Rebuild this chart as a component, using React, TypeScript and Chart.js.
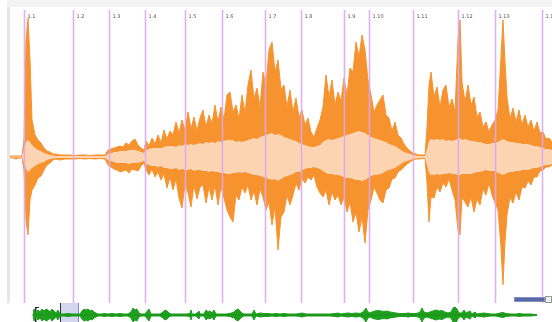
import React, { useEffect, useRef } from "react";
import { Chart, registerables } from "chart.js";

Chart.register(...registerables);

// ---- main view (frames, 10 ms each) ----
const viewFrames = [
  0, 3, 6, 9, 12, 14, 16, 18, 20, 22,
  25, 28, 31, 34, 37, 40, 43, 46, 50, 55,
  60, 65, 70, 75, 80, 85, 90, 95, 98, 101,
  104, 107, 110, 113, 116, 119, 122, 125, 128, 131,
  134, 136, 139, 142, 145, 148, 151, 154, 157, 160,
  163, 166, 169, 172, 175, 178, 181, 184, 187, 190,
  193, 196, 199, 202, 205, 208, 211, 214, 217, 220,
  223, 226, 229, 232, 235, 238, 241, 244, 247, 250,
  253, 256, 259, 262, 265, 268, 271, 274, 277, 280,
  283, 286, 289, 292, 295, 298, 301, 304, 307, 310,
  313, 316, 319, 322, 325, 328, 331, 334, 337, 340,
  343, 346, 349, 352, 355, 358, 361, 364, 367, 370,
  373, 376, 379, 382, 385, 388, 391, 394, 397, 400,
  403, 406, 409, 412, 415, 417, 419, 421, 424, 427,
  430, 433, 436, 439, 442, 445, 448, 450, 452, 455,
  458, 461, 464, 467, 470, 473, 476, 479, 482, 485,
  488, 491, 493, 495, 497, 500, 503, 506, 509, 512,
  515, 518, 521, 524, 527, 530, 533, 536, 539, 542,
];

const peakUpper = [
  1, 1, 1, 1, 1, 17, 117, 139, 97, 37,
  22, 17, 14, 9, 6, 5, 3, 3, 2, 2,
  2, 1.5, 2, 2, 1.5, 2, 2, 2, 7, 8,
  9, 10, 11, 10, 14, 12, 16, 18, 12, 9,
  7, 16, 11, 19, 13, 22, 14, 27, 18, 26,
  22, 35, 24, 37, 27, 45, 28, 40, 26, 39,
  47, 30, 42, 33, 52, 35, 50, 38, 62, 65,
  45, 52, 38, 62, 44, 72, 87, 58, 69, 50,
  85, 72, 107, 115, 85, 97, 68, 72, 50, 67,
  45, 59, 40, 47, 32, 39, 25, 20, 29, 37,
  50, 82, 60, 77, 52, 65, 56, 79, 62, 89,
  85, 115, 100, 122, 107, 77, 62, 45, 52, 57,
  62, 42, 39, 26, 35, 22, 19, 13, 9, 6,
  4, 3, 2, 2, 2, 30, 72, 85, 60, 70,
  50, 67, 72, 50, 58, 45, 117, 137, 75, 55,
  72, 52, 60, 40, 45, 30, 35, 25, 32, 37,
  47, 100, 137, 95, 60, 38, 49, 35, 47, 32,
  42, 30, 37, 26, 35, 24, 25, 18, 19, 15,
];

const peakLower = [
  1, 1, 2, 1, 1, 13, 63, 78, 43, 33,
  28, 21, 19, 13, 8, 6, 3, 2, 3, 2,
  2, 2, 1.5, 2, 1.5, 2, 1.5, 2, 8, 10,
  12, 13, 15, 14, 13, 16, 12, 13, 14, 9,
  6, 13, 18, 12, 20, 15, 23, 17, 31, 20,
  33, 22, 41, 51, 27, 36, 50, 28, 42, 30,
  28, 46, 30, 43, 28, 48, 30, 41, 53, 60,
  65, 38, 43, 30, 36, 28, 43, 34, 48, 32,
  40, 53, 45, 68, 50, 93, 60, 55, 38, 48,
  38, 26, 33, 22, 26, 20, 23, 18, 30, 36,
  40, 33, 48, 35, 43, 38, 48, 40, 55, 45,
  65, 55, 75, 60, 86, 53, 43, 30, 36, 43,
  46, 33, 31, 22, 21, 15, 13, 10, 7, 5,
  3, 2, 2, 1.5, 1.5, 25, 65, 40, 41, 30,
  35, 26, 30, 22, 33, 43, 73, 78, 40, 45,
  50, 40, 55, 42, 48, 32, 38, 26, 38, 46,
  53, 90, 128, 85, 58, 40, 46, 35, 43, 30,
  31, 24, 28, 20, 20, 14, 13, 10, 10, 8,
];

const rmsUpper = [
  0.5, 0.5, 0.5, 0.5, 0.5, 8, 15, 17, 15, 12,
  9, 7, 6, 4, 3, 2, 1.5, 1, 1, 1,
  1, 1, 1, 1, 1, 1, 1, 1, 3, 4,
  5, 5, 6, 6, 6, 7, 7, 7, 6, 5,
  4, 7, 8, 9, 9, 9, 9, 10, 11, 11,
  11, 10, 12, 11, 13, 12, 13, 12, 13, 14,
  13, 15, 14, 15, 14, 16, 15, 16, 17, 17,
  17, 15, 16, 15, 16, 17, 18, 19, 18, 20,
  21, 22, 23, 24, 22, 23, 22, 20, 19, 18,
  17, 16, 14, 13, 12, 11, 10, 10, 11, 12,
  15, 17, 18, 17, 18, 19, 20, 21, 22, 23,
  24, 25, 26, 25, 24, 22, 20, 19, 18, 17,
  16, 15, 13, 12, 11, 9, 7, 5, 4, 3,
  2, 1.5, 1, 1, 1, 8, 16, 18, 17, 18,
  17, 18, 16, 17, 16, 17, 18, 19, 17, 18,
  17, 16, 16, 15, 15, 14, 13, 13, 14, 14,
  15, 17, 18, 17, 16, 15, 15, 14, 14, 13,
  13, 13, 12, 11, 11, 10, 9, 8, 8, 7,
];

const rmsLower = [
  0.5, 0.5, 0.5, 0.5, 0.5, 6, 12, 15, 13, 11,
  9, 7, 6, 5, 3, 2, 1.5, 1, 1, 1,
  1, 1, 1, 1, 1, 1, 1, 1, 3, 4,
  5, 6, 6, 6, 6, 7, 6, 6, 6, 5,
  4, 7, 8, 9, 9, 10, 9, 11, 11, 12,
  12, 11, 13, 12, 13, 13, 12, 14, 13, 13,
  14, 14, 15, 14, 15, 15, 16, 16, 17, 17,
  16, 16, 15, 16, 15, 16, 17, 18, 18, 19,
  20, 21, 22, 23, 22, 24, 22, 20, 19, 18,
  17, 15, 15, 13, 12, 11, 11, 10, 11, 12,
  14, 16, 17, 17, 18, 18, 19, 20, 21, 21,
  22, 23, 23, 24, 23, 21, 19, 18, 18, 17,
  16, 14, 13, 12, 11, 9, 7, 5, 4, 3,
  2, 1.5, 1, 1, 1, 8, 16, 18, 18, 17,
  18, 17, 17, 16, 17, 17, 18, 18, 17, 17,
  17, 17, 16, 15, 15, 14, 13, 14, 14, 14,
  16, 17, 18, 17, 16, 15, 15, 14, 14, 13,
  13, 13, 12, 11, 11, 10, 9, 8, 8, 7,
];

const markerFrames = [14, 63, 99, 135, 175, 212, 255, 291, 334, 359, 403, 448, 485, 532];
const markerLabels = ["1.1", "1.2", "1.3", "1.4", "1.5", "1.6", "1.7", "1.8", "1.9", "1.10", "1.11", "1.12", "1.13", "1.14"];

// ---- overview (whole file) ----
const overviewFrames = [
  33, 34, 36, 38, 40, 42, 44, 46, 48, 50,
  52, 54, 56, 58, 60, 64, 68, 72, 76, 80,
  82, 84, 86, 88, 90, 92, 94, 96, 98, 102,
  104, 108, 112, 116, 120, 124, 128, 131, 133, 135,
  137, 139, 141, 145, 149, 151, 155, 160, 163, 165,
  167, 169, 171, 176, 181, 186, 190, 191, 192, 196,
  199, 200, 204, 206, 208, 210, 212, 214, 216, 221,
  226, 230, 234, 236, 238, 240, 242, 244, 249, 252,
  254, 256, 260, 264, 268, 272, 276, 280, 284, 288,
  292, 296, 300, 302, 306, 312, 318, 324, 330, 335,
  338, 341, 344, 348, 352, 356, 360, 363, 366, 368,
  370, 372, 375, 378, 381, 384, 387, 390, 393, 396,
  400, 405, 408, 411, 415, 418, 420, 422, 424, 427,
  430, 433, 436, 439, 442, 445, 448, 451, 453, 455,
  457, 459, 462, 464, 466, 468, 470, 472, 475, 477,
  480, 484, 487, 491, 496, 500, 503, 506, 511, 516,
  519, 523, 527, 531, 535, 537,
];
const overviewAmp = [
  0, 6, 1, 5, 3, 6, 4, 6, 5, 3,
  6, 4, 2, 5, 1, 1, 1.5, 1, 1, 1,
  4, 6, 5, 6, 4, 5, 3, 2, 1, 1,
  1.5, 1, 1.5, 1, 1.5, 1, 1, 3, 7, 5,
  6, 2, 1, 1, 6, 1, 1, 1, 3, 5,
  4, 2, 1, 1, 1, 1, 1.5, 5, 1, 1,
  4, 1, 1, 5, 3, 4, 2, 5, 1, 1,
  1, 1.5, 3, 5, 6, 4, 2, 1, 1, 1,
  5, 1, 2, 1.5, 1.5, 1, 1.5, 1, 1.5, 1,
  1, 1, 1.5, 2, 1, 1, 1, 1, 1, 1.5,
  2, 1, 1.5, 2, 1.5, 2, 1.5, 3, 7, 3,
  2, 3, 4, 4.5, 4, 3.5, 4, 3, 2.5, 2,
  1.5, 1.5, 2, 1.5, 1.5, 2, 3, 7, 3, 2,
  3, 4, 5, 4, 4.5, 3, 2, 3, 7, 8,
  6, 2, 2, 5, 2, 3, 4, 1, 3, 1,
  1.5, 2, 1.5, 1, 1, 2, 2.5, 1.5, 1, 1,
  1.5, 1, 1, 1, 0.5, 0,
];
const selectionFrames = [60, 78];
const bracketFrame = 35;

const markerPlugin = {
  id: "markers",
  afterDatasetsDraw(chart: any) {
    const ctx = chart.ctx;
    const xs = chart.scales.x;
    ctx.save();
    markerFrames.forEach((f, i) => {
      const x = Math.round(xs.getPixelForValue(f)) + 0.5;
      ctx.strokeStyle = "rgba(218,168,242,0.9)";
      ctx.lineWidth = 1.6;
      ctx.beginPath();
      ctx.moveTo(x, 3);
      ctx.lineTo(x, 296);
      ctx.stroke();
      ctx.fillStyle = "#555";
      ctx.font = "5px 'DejaVu Sans', sans-serif";
      ctx.textBaseline = "middle";
      ctx.fillText(markerLabels[i], x + 3, 10);
    });
    ctx.restore();
  },
};

const overviewPlugin = {
  id: "overviewDecor",
  beforeDatasetsDraw(chart: any) {
    const ctx = chart.ctx;
    const xs = chart.scales.x;
    const h = chart.height;
    const x0 = Math.round(xs.getPixelForValue(selectionFrames[0]));
    const x1 = Math.round(xs.getPixelForValue(selectionFrames[1]));
    ctx.save();
    ctx.fillStyle = "rgba(205,210,238,0.9)";
    ctx.fillRect(x0, 0, x1 - x0, h);
    ctx.fillStyle = "#333";
    ctx.fillRect(x0, 0, 1, h);
    ctx.fillStyle = "#7f88c8";
    ctx.fillRect(x1, 0, 1, h);
    const bx = Math.round(xs.getPixelForValue(bracketFrame));
    ctx.fillStyle = "#1b3b1b";
    ctx.fillRect(bx, 4, 1.5, h - 4);
    ctx.fillRect(bx, 4, 4, 1);
    ctx.restore();
  },
};

export default function App() {
  const mainRef = useRef<HTMLCanvasElement>(null);
  const ovRef = useRef<HTMLCanvasElement>(null);

  useEffect(() => {
    const pts = (arr: number[], sign: number) =>
      viewFrames.map((f, i) => ({ x: f, y: sign * arr[i] }));
    const main = new Chart(mainRef.current as HTMLCanvasElement, {
      type: "line",
      data: {
        datasets: [
          { data: pts(rmsUpper, 1), fill: "+1", backgroundColor: "rgb(252,212,178)", borderColor: "rgba(0,0,0,0)", borderWidth: 0, pointRadius: 0 },
          { data: pts(rmsLower, -1), fill: false, borderColor: "rgba(0,0,0,0)", borderWidth: 0, pointRadius: 0 },
          { data: pts(peakUpper, 1), fill: "+1", backgroundColor: "rgb(247,147,46)", borderColor: "rgb(247,147,46)", borderWidth: 1, pointRadius: 0 },
          { data: pts(peakLower, -1), fill: false, borderColor: "rgb(247,147,46)", borderWidth: 1, pointRadius: 0 },
        ] as any,
      },
      options: {
        responsive: false,
        animation: false,
        devicePixelRatio: 1,
        layout: { padding: 0 },
        plugins: { legend: { display: false }, tooltip: { enabled: false } },
        elements: { line: { tension: 0 } },
        scales: {
          x: { type: "linear", min: 0, max: 542, display: false },
          y: { type: "linear", min: -150, max: 150, display: false },
        },
      },
      plugins: [markerPlugin],
    });

    const ovPts = (sign: number) => overviewFrames.map((f, i) => ({ x: f, y: sign * overviewAmp[i] }));
    const ov = new Chart(ovRef.current as HTMLCanvasElement, {
      type: "line",
      data: {
        datasets: [
          { data: [{ x: overviewFrames[0], y: 0 }, { x: overviewFrames[overviewFrames.length - 1], y: 0 }], fill: false, borderColor: "rgb(30,150,30)", borderWidth: 1.5, pointRadius: 0 },
          { data: ovPts(1), fill: "+1", backgroundColor: "rgb(30,160,30)", borderColor: "rgb(30,160,30)", borderWidth: 1, pointRadius: 0 },
          { data: ovPts(-1), fill: false, borderColor: "rgb(30,160,30)", borderWidth: 1, pointRadius: 0 },
        ] as any,
      },
      options: {
        responsive: false,
        animation: false,
        devicePixelRatio: 1,
        layout: { padding: 0 },
        plugins: { legend: { display: false }, tooltip: { enabled: false } },
        elements: { line: { tension: 0 } },
        scales: {
          x: { type: "linear", min: 0, max: 552, display: false },
          y: { type: "linear", min: -7, max: 12, display: false },
        },
      },
      plugins: [overviewPlugin],
    });

    return () => {
      main.destroy();
      ov.destroy();
    };
  }, []);

  return (
    <div style={{ position: "fixed", left: 0, top: 0, width: 552, height: 322, background: "#fff", overflow: "hidden" }}>
      <div style={{ position: "absolute", left: 7, top: 0, width: 545, height: 7, background: "#f3f3f3" }} />
      <div style={{ position: "absolute", left: 7, top: 7, width: 3, height: 296, background: "#e6e6e6" }} />
      <canvas ref={mainRef} width={542} height={300} style={{ position: "absolute", left: 10, top: 7, width: 542, height: 300 }} />
      <canvas ref={ovRef} width={552} height={19} style={{ position: "absolute", left: 0, top: 303, width: 552, height: 19 }} />
      <div style={{ position: "absolute", left: 514, top: 297, width: 31, height: 5, background: "#5b6aa6", border: "1px solid #8090c0", boxSizing: "border-box" }} />
      <div style={{ position: "absolute", left: 545, top: 296, width: 7, height: 7, background: "#f0f0f0", border: "1px solid #999", boxSizing: "border-box" }} />
    </div>
  );
}
